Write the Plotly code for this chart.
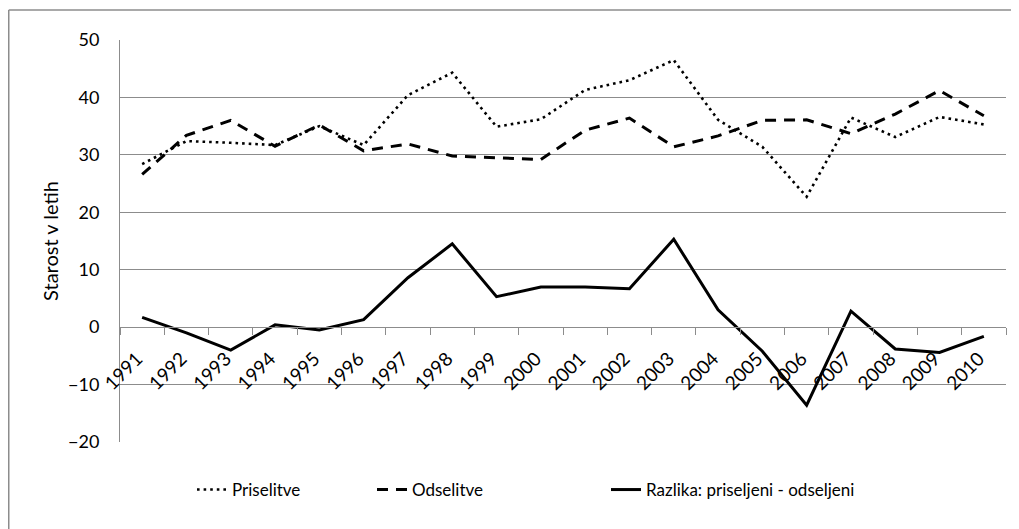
import plotly.graph_objects as go

years = [str(y) for y in range(1991, 2011)]
priselitve = [28.4, 32.4, 32.1, 31.7, 35.0, 31.7, 40.4, 44.3, 34.9, 36.2,
              41.3, 43.0, 46.5, 36.1, 31.4, 22.7, 36.5, 33.1, 36.6, 35.3]
odselitve = [26.6, 33.4, 36.0, 31.5, 35.2, 30.7, 31.9, 29.8, 29.5, 29.2,
             34.3, 36.4, 31.4, 33.3, 36.0, 36.1, 33.7, 37.1, 41.2, 36.8]
razlika = [1.7, -1.0, -4.0, 0.4, -0.5, 1.3, 8.6, 14.5, 5.3, 7.0,
           7.0, 6.7, 15.3, 3.0, -4.2, -13.6, 2.8, -3.8, -4.4, -1.6]

names = ["Priselitve", "Odselitve", "Razlika: priseljeni - odseljeni"]

FONT = "Lato"
GRID = "#8c8c8c"

fig = go.Figure()
fig.add_trace(go.Scatter(x=years, y=priselitve, mode="lines", name=names[0],
                         line=dict(color="black", width=2.6, dash="2.6px,4px"),
                         legend="legend"))
fig.add_trace(go.Scatter(x=years, y=odselitve, mode="lines", name=names[1],
                         line=dict(color="black", width=3, dash="11px,8px"),
                         legend="legend2"))
fig.add_trace(go.Scatter(x=years, y=razlika, mode="lines", name=names[2],
                         line=dict(color="black", width=3),
                         legend="legend3"))

# page body adds an 8px offset; work in screenshot pixels minus 8
OFF = 8
W, H = 1011, 521
L, T = 120 - OFF, 40 - OFF
R = W - (1006 - OFF)
B = H - (442 - OFF)
pw = W - L - R
ph = H - T - B

def px2x(p):
    return (p - OFF - L) / pw

def py2y(p):
    return (H - B - (p - OFF)) / ph

def cx(p):
    return (p - OFF) / W

def cy(p):
    return 1 - (p - OFF) / H

leg_common = dict(orientation="h", yanchor="middle", xanchor="left",
                  xref="container", yref="container",
                  y=cy(490), font=dict(family=FONT, size=17, color="black"),
                  bgcolor="rgba(0,0,0,0)", borderwidth=0)

fig.update_layout(
    width=W, height=H,
    margin=dict(l=L, r=R, t=T, b=B, autoexpand=False),
    paper_bgcolor="white", plot_bgcolor="white",
    font=dict(family=FONT, size=17, color="black"),
    showlegend=True,
    legend=dict(x=cx(192), **leg_common),
    legend2=dict(x=cx(372), **leg_common),
    legend3=dict(x=cx(606), **leg_common),
    xaxis=dict(
        type="category", anchor="free", position=20 / 70,
        showline=True, linecolor=GRID, linewidth=1,
        ticks="outside", ticklen=7, tickcolor=GRID, tickwidth=1,
        tickson="boundaries", tickangle=-45,
        ticklabelstandoff=12, ticklabelshift=-5,
        showgrid=False, zeroline=False,
        tickfont=dict(family=FONT, size=19, color="black"),
        range=[-0.5, 19.5],
    ),
    yaxis=dict(
        range=[-20, 50], dtick=10, tick0=0,
        showgrid=True, gridcolor=GRID, gridwidth=1,
        zeroline=False, showline=True, linecolor=GRID, linewidth=1,
        ticks="", ticklabelstandoff=16,
        tickfont=dict(family=FONT, size=18, color="black"),
        title=dict(text="Starost v letih", standoff=4,
                   font=dict(family=FONT, size=20, color="black")),
    ),
    shapes=[
        dict(type="line", xref="paper", yref="paper",
             x0=px2x(8.75), x1=px2x(8.75), y0=py2y(10), y1=py2y(540),
             line=dict(color=GRID, width=1.5)),
        dict(type="line", xref="paper", yref="paper",
             x0=px2x(8.75), x1=px2x(1030), y0=py2y(10), y1=py2y(10),
             line=dict(color=GRID, width=1.5)),
    ],
)

fig.write_html("out.html")
